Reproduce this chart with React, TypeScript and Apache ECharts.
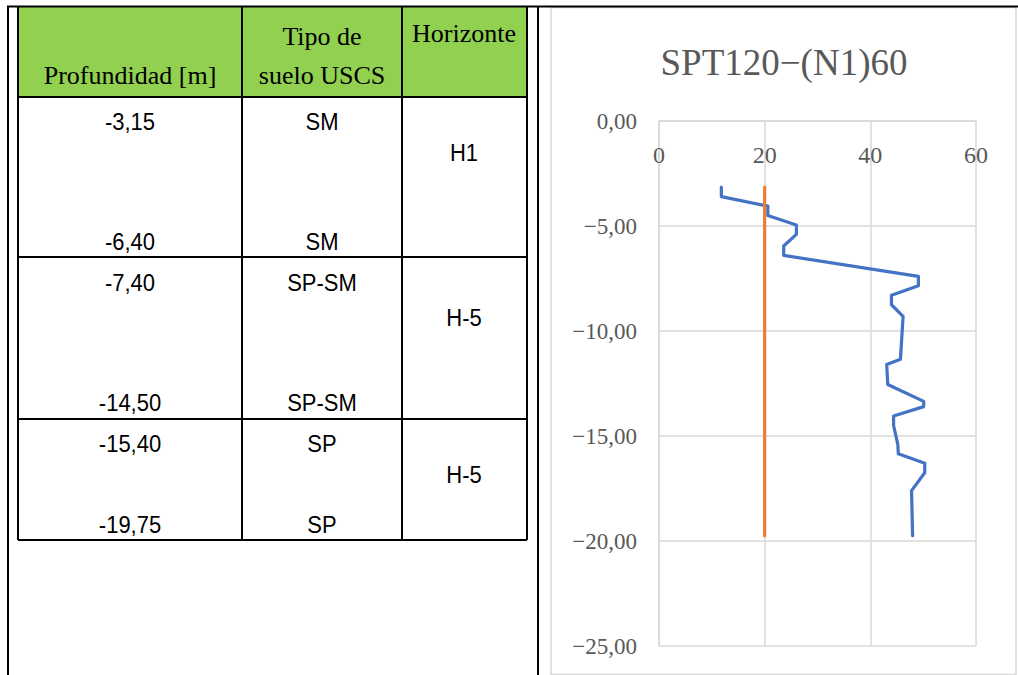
import React, { useEffect, useRef } from "react";
import * as echarts from "echarts";

// ---- Chart data ----
const sptDepths = [-3.15, -3.6, -4.05, -4.5, -4.95, -5.4, -5.95, -6.4, -7.4, -7.85, -8.3, -8.75, -9.3, -11.35, -11.6, -12.55, -13.35, -13.6, -14.05, -14.5, -15.4, -15.85, -16.3, -16.75, -17.6, -19.75];
const sptN160 = [11.8, 11.8, 20.6, 20.6, 26.0, 26.0, 23.6, 23.6, 49.1, 49.1, 44.0, 44.0, 46.2, 45.7, 43.1, 43.3, 50.1, 50.1, 44.4, 44.4, 45.2, 45.3, 50.3, 50.3, 47.8, 48.0];
const refDepths = [-3.15, -19.75];
const refValues = [20, 20];
const chartTitle = "SPT120\u2212(N1)60";
const xTicks = [0, 20, 40, 60];
const yTicks = [0, -5, -10, -15, -20, -25];

// ---- Table data ----
const headerDepth = ["Profundidad [m]"];
const headerSoil = ["Tipo de", "suelo USCS"];
const headerHorizon = ["Horizonte"];
const depthTop = ["-3,15", "-7,40", "-15,40"];
const depthBottom = ["-6,40", "-14,50", "-19,75"];
const soilTop = ["SM", "SP-SM", "SP"];
const soilBottom = ["SM", "SP-SM", "SP"];
const horizons = ["H1", "H-5", "H-5"];

const SERIF = "Liberation Serif, Times New Roman, serif";
const SANS = "Liberation Sans, Arial, sans-serif";

function fmtY(v: number): string {
  const s = Math.abs(v).toFixed(2).replace(".", ",");
  return v < 0 ? "\u2212" + s : s;
}

function txt(text: string, x: number, y: number, size: number, family: string, sy = 1, color = "#000") {
  return {
    type: "text",
    x,
    y,
    scaleY: sy,
    silent: true,
    style: {
      text,
      fill: color,
      fontSize: size,
      fontFamily: family,
      align: "center",
      verticalAlign: "middle",
      textAlign: "center",
      textVerticalAlign: "middle",
    },
  };
}

function ln(x1: number, y1: number, x2: number, y2: number, w = 2, color = "#000") {
  return {
    type: "line",
    silent: true,
    shape: { x1, y1, x2, y2 },
    style: { stroke: color, lineWidth: w },
  };
}

export default function App() {
  const ref = useRef<HTMLDivElement>(null);

  useEffect(() => {
    if (!ref.current) return;
    const chart = echarts.init(ref.current, null, { renderer: "svg" });

    // table geometry
    const tL = 18, tR = 527, c1 = 242, c2 = 402, tT = 7, hB = 97;
    const rows = [97, 257, 419, 540];
    const colC = [130, 322, 464];
    const topY = [122, 283, 444];
    const botY = [242, 403, 525];
    const horY = [153, 318, 475];

    const graphics: any[] = [];
    graphics.push({
      type: "rect",
      silent: true,
      shape: { x: tL, y: tT, width: tR - tL, height: hB - tT },
      style: { fill: "#92D050" },
    });
    // chart frame
    graphics.push({
      type: "rect",
      silent: true,
      z: -1,
      shape: { x: 551, y: 7.5, width: 465, height: 667 },
      style: { fill: "none", stroke: "#D9D9D9", lineWidth: 1.5 },
    });
    // outer lines
    graphics.push(ln(7, 6.5, 1018, 6.5, 2));
    graphics.push(ln(8, 6, 8, 675, 2));
    graphics.push(ln(538, 6, 538, 675, 2));
    // table lines
    [tL, c1, c2, tR].forEach((x) => graphics.push(ln(x, tT, x, rows[3], 2)));
    rows.forEach((y) => graphics.push(ln(tL, y, tR, y, 2)));

    // header texts
    graphics.push(txt(headerDepth[0], 130, 75, 26, SERIF));
    graphics.push(txt(headerSoil[0], 322, 36, 26, SERIF));
    graphics.push(txt(headerSoil[1], 322, 75, 26, SERIF));
    graphics.push(txt(headerHorizon[0], 464, 33, 26, SERIF));

    for (let i = 0; i < 3; i++) {
      graphics.push(txt(depthTop[i], colC[0], topY[i], 22, SANS, 1.12));
      graphics.push(txt(depthBottom[i], colC[0], botY[i], 22, SANS, 1.12));
      graphics.push(txt(soilTop[i], colC[1], topY[i], 22, SANS, 1.12));
      graphics.push(txt(soilBottom[i], colC[1], botY[i], 22, SANS, 1.12));
      graphics.push(txt(horizons[i], colC[2], horY[i], 22, SANS, 1.12));
    }

    const gridColor = "#D9D9D9";
    const labelColor = "#595959";

    chart.setOption({
      animation: false,
      backgroundColor: "#fff",
      title: {
        text: chartTitle,
        left: 779,
        top: 57,
        textAlign: "center",
        textVerticalAlign: "middle",
        textStyle: { fontFamily: SERIF, fontSize: 37, fontWeight: "normal", color: labelColor },
      },
      grid: { left: 659, top: 121, right: 42, bottom: 29, containLabel: false, outerBoundsMode: "none" },
      xAxis: {
        type: "value",
        position: "top",
        min: xTicks[0],
        max: xTicks[xTicks.length - 1],
        interval: 20,
        axisLine: { show: true, onZero: false, lineStyle: { color: gridColor, width: 1.5 } },
        axisTick: { show: false },
        splitLine: { show: true, lineStyle: { color: gridColor, width: 1.5 } },
        axisLabel: {
          inside: true,
          margin: 22,
          color: labelColor,
          fontFamily: SERIF,
          fontSize: 24,
        },
      },
      yAxis: {
        type: "value",
        min: yTicks[yTicks.length - 1],
        max: yTicks[0],
        interval: 5,
        axisLine: { show: true, onZero: false, lineStyle: { color: gridColor, width: 1.5 } },
        axisTick: { show: false },
        splitLine: { show: true, lineStyle: { color: gridColor, width: 1.5 } },
        axisLabel: {
          margin: 22,
          color: labelColor,
          fontFamily: SERIF,
          fontSize: 23,
          formatter: (v: number) => fmtY(v),
        },
      },
      series: [
        {
          name: "(N1)60",
          type: "line",
          symbol: "none",
          showSymbol: false,
          data: sptDepths.map((d, i) => [sptN160[i], d]),
          lineStyle: { color: "#4472C4", width: 3.2, cap: "round", join: "round" },
          z: 3,
        },
        {
          name: "Referencia",
          type: "line",
          symbol: "none",
          showSymbol: false,
          data: refDepths.map((d, i) => [refValues[i], d]),
          lineStyle: { color: "#ED7D31", width: 3.2, cap: "round" },
          z: 4,
        },
      ],
      graphic: graphics,
    });

    return () => chart.dispose();
  }, []);

  return (
    <div
      ref={ref}
      style={{ position: "absolute", left: 0, top: 0, width: 1018, height: 675, background: "#fff" }}
    />
  );
}
